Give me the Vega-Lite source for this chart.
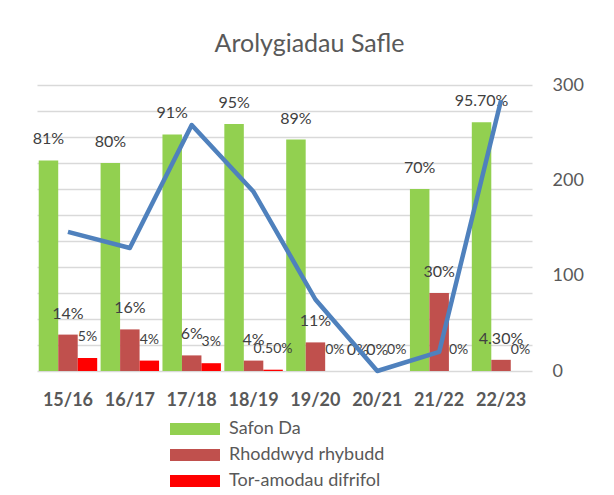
{
  "$schema": "https://vega.github.io/schema/vega-lite/v6.json",
  "width": 495,
  "height": 286,
  "autosize": {"type": "none"},
  "padding": {"left": 37, "top": 85, "right": 82, "bottom": 124},
  "background": "white",
  "title": {"text": "Arolygiadau Safle", "font": "Lato", "fontSize": 25, "fontWeight": "normal", "color": "#595959", "anchor": "middle", "dx": 25, "offset": 19},
  "config": {"view": {"stroke": null}, "font": "Lato"},
  "datasets": {
    "bars": [
      {"season": "15/16", "series": "Safon Da", "value": 0.81, "label": "81%"},
      {"season": "15/16", "series": "Rhoddwyd rhybudd", "value": 0.14, "label": "14%"},
      {"season": "15/16", "series": "Tor-amodau difrifol", "value": 0.05, "label": "5%"},
      {"season": "16/17", "series": "Safon Da", "value": 0.80, "label": "80%"},
      {"season": "16/17", "series": "Rhoddwyd rhybudd", "value": 0.16, "label": "16%"},
      {"season": "16/17", "series": "Tor-amodau difrifol", "value": 0.04, "label": "4%"},
      {"season": "17/18", "series": "Safon Da", "value": 0.91, "label": "91%"},
      {"season": "17/18", "series": "Rhoddwyd rhybudd", "value": 0.06, "label": "6%"},
      {"season": "17/18", "series": "Tor-amodau difrifol", "value": 0.03, "label": "3%"},
      {"season": "18/19", "series": "Safon Da", "value": 0.95, "label": "95%"},
      {"season": "18/19", "series": "Rhoddwyd rhybudd", "value": 0.04, "label": "4%"},
      {"season": "18/19", "series": "Tor-amodau difrifol", "value": 0.005, "label": "0.50%"},
      {"season": "19/20", "series": "Safon Da", "value": 0.89, "label": "89%"},
      {"season": "19/20", "series": "Rhoddwyd rhybudd", "value": 0.11, "label": "11%"},
      {"season": "19/20", "series": "Tor-amodau difrifol", "value": 0, "label": "0%"},
      {"season": "20/21", "series": "Safon Da", "value": 0, "label": "0%"},
      {"season": "20/21", "series": "Rhoddwyd rhybudd", "value": 0, "label": "0%"},
      {"season": "20/21", "series": "Tor-amodau difrifol", "value": 0, "label": "0%"},
      {"season": "21/22", "series": "Safon Da", "value": 0.70, "label": "70%"},
      {"season": "21/22", "series": "Rhoddwyd rhybudd", "value": 0.30, "label": "30%"},
      {"season": "21/22", "series": "Tor-amodau difrifol", "value": 0, "label": "0%"},
      {"season": "22/23", "series": "Safon Da", "value": 0.957, "label": "95.70%"},
      {"season": "22/23", "series": "Rhoddwyd rhybudd", "value": 0.043, "label": "4.30%"},
      {"season": "22/23", "series": "Tor-amodau difrifol", "value": 0, "label": "0%"}
    ],
    "line": [
      {"season": "15/16", "count": 146},
      {"season": "16/17", "count": 129},
      {"season": "17/18", "count": 258},
      {"season": "18/19", "count": 188},
      {"season": "19/20", "count": 75},
      {"season": "20/21", "count": 0},
      {"season": "21/22", "count": 20},
      {"season": "22/23", "count": 284}
    ]
  },
  "layer": [
    {
      "data": {"name": "bars"},
      "encoding": {
        "x": {"field": "season", "type": "nominal", "sort": ["15/16","16/17","17/18","18/19","19/20","20/21","21/22","22/23"], "scale": {"paddingInner": 0.055, "paddingOuter": 0.028}, "axis": {"title": null, "labelAngle": 0, "labelFontSize": 18, "labelFontWeight": "bold", "labelColor": "#595959", "ticks": false, "domain": false, "labelPadding": 20}},
        "xOffset": {"field": "series", "type": "nominal", "sort": ["Safon Da", "Rhoddwyd rhybudd", "Tor-amodau difrifol"], "scale": {"paddingInner": 0, "paddingOuter": 0}},
        "y": {"field": "value", "type": "quantitative", "scale": {"domain": [0, 1.1], "nice": false}, "axis": {"values": [0, 0.1, 0.2, 0.3, 0.4, 0.5, 0.6, 0.7, 0.8, 0.9, 1.0, 1.1], "labels": false, "ticks": false, "domain": false, "title": null, "gridColor": "#D9D9D9", "gridWidth": 1.3}}
      },
      "layer": [
        {
          "mark": {"type": "bar"},
          "encoding": {
            "color": {"field": "series", "type": "nominal", "scale": {"domain": ["Safon Da", "Rhoddwyd rhybudd", "Tor-amodau difrifol"], "range": ["#92D050", "#C0504D", "#FF0000"]}, "legend": {"orient": "none", "legendX": 130, "legendY": 335, "title": null, "symbolType": "M-1,-1H7.333V1H-1Z", "symbolSize": 144, "symbolStrokeWidth": 0, "labelFontSize": 18, "labelColor": "#595959", "labelOffset": 44, "rowPadding": 8, "padding": 0}}
          }
        },
        {
          "mark": {"type": "text", "dy": -21, "baseline": "middle", "color": "#404040"},
          "encoding": {
            "text": {"field": "label"},
            "size": {"condition": {"test": "datum.series === 'Tor-amodau difrifol'", "value": 14}, "value": 16}
          }
        }
      ]
    },
    {
      "data": {"name": "line"},
      "mark": {"type": "line", "color": "#4F81BD", "strokeWidth": 4.5, "strokeJoin": "round"},
      "encoding": {
        "x": {"field": "season", "type": "nominal", "sort": ["15/16","16/17","17/18","18/19","19/20","20/21","21/22","22/23"]},
        "y": {"field": "count", "type": "quantitative", "scale": {"domain": [0, 300], "nice": false}, "axis": {"orient": "right", "values": [0, 100, 200, 300], "grid": false, "ticks": false, "domain": false, "labelFontSize": 18, "labelColor": "#595959", "labelPadding": 20, "title": null}}
      }
    }
  ],
  "resolve": {"scale": {"y": "independent"}, "axis": {"y": "independent"}}
}
